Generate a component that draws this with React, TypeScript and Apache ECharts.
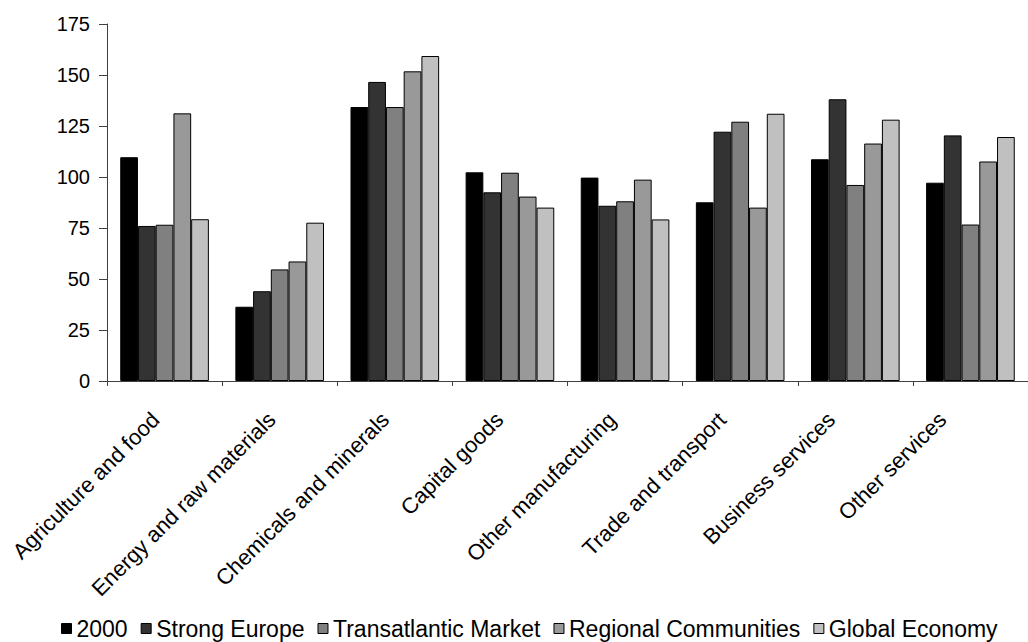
import React, { useEffect, useRef } from "react";
import * as echarts from "echarts";

const categories = [
  "Agriculture and food",
  "Energy and raw materials",
  "Chemicals and minerals",
  "Capital goods",
  "Other manufacturing",
  "Trade and transport",
  "Business services",
  "Other services",
];

const seriesNames = [
  "2000",
  "Strong Europe",
  "Transatlantic Market",
  "Regional Communities",
  "Global Economy",
];

const values2000 = [109.7, 36.4, 134.3, 102.3, 99.7, 87.6, 108.7, 97.2];
const strongEurope = [76.0, 44.0, 146.6, 92.5, 85.9, 122.2, 138.1, 120.4];
const transatlantic = [76.6, 54.7, 134.3, 102.1, 88.1, 127.1, 96.1, 76.7];
const regional = [131.2, 58.6, 151.8, 90.4, 98.7, 85.0, 116.4, 107.6];
const globalEconomy = [79.3, 77.6, 159.3, 85.0, 79.2, 131.0, 128.1, 119.6];

const yTicks = { min: 0, max: 175, interval: 25 };

// style: horizontal leftward nudge (px) of each rotated category label
const labelNudge = [9, 8, 9.5, 10.5, 13, 18, 24, 28];

const colors = ["#000000", "#333333", "#808080", "#999999", "#c0c0c0"];
const FONT = "'Liberation Sans', Arial, sans-serif";

export default function App() {
  const ref = useRef<HTMLDivElement>(null);
  useEffect(() => {
    if (!ref.current) return;
    const chart = echarts.init(ref.current, null, { renderer: "svg" });
    const allSeries = [values2000, strongEurope, transatlantic, regional, globalEconomy];
    const catData = categories.map((c, i) => {
      const s = labelNudge[i] / Math.SQRT2;
      // padding moves the label back along its baseline, the trailing empty
      // line (with lineHeight 2s) lifts it perpendicular: net shift is horizontal
      return { value: c, textStyle: { padding: [0, s, 0, 0], lineHeight: 2 * s } };
    });
    chart.setOption({
      animation: false,
      backgroundColor: "#ffffff",
      textStyle: { fontFamily: FONT },
      grid: { left: 107, top: 24, width: 929, height: 357, containLabel: false },
      legend: {
        data: seriesNames,
        left: 56,
        top: 612,
        icon: "rect",
        itemWidth: 10,
        itemHeight: 10,
        itemGap: 13,
        textStyle: { fontSize: 23, color: "#000", fontFamily: FONT },
        itemStyle: { borderColor: "#000", borderWidth: 1 },
      },
      xAxis: {
        type: "category",
        data: catData,
        boundaryGap: true,
        axisLine: { lineStyle: { color: "#404040", width: 1 } },
        axisTick: { show: true, length: 5, lineStyle: { color: "#404040" } },
        axisLabel: {
          rotate: 45,
          interval: 0,
          fontSize: 22,
          color: "#000",
          margin: 35,
          fontFamily: FONT,
          formatter: (v: string) => v + "\n",
        },
      },
      yAxis: {
        type: "value",
        min: yTicks.min,
        max: yTicks.max,
        interval: yTicks.interval,
        splitLine: { show: false },
        axisLine: { show: true, lineStyle: { color: "#404040", width: 1 } },
        axisTick: { show: true, length: 8, inside: false, lineStyle: { color: "#404040" } },
        axisLabel: { fontSize: 20, color: "#000", margin: 17, fontFamily: FONT },
      },
      series: allSeries.map((d, i) => ({
        name: seriesNames[i],
        type: "bar",
        data: d,
        barGap: "0%",
        barCategoryGap: "23%",
        itemStyle: { color: colors[i], borderColor: "#000", borderWidth: 1 },
      })),
    });
    return () => chart.dispose();
  }, []);
  return (
    <div
      ref={ref}
      style={{ position: "absolute", left: 0, top: 0, width: 1028, height: 642, background: "#fff" }}
    />
  );
}
